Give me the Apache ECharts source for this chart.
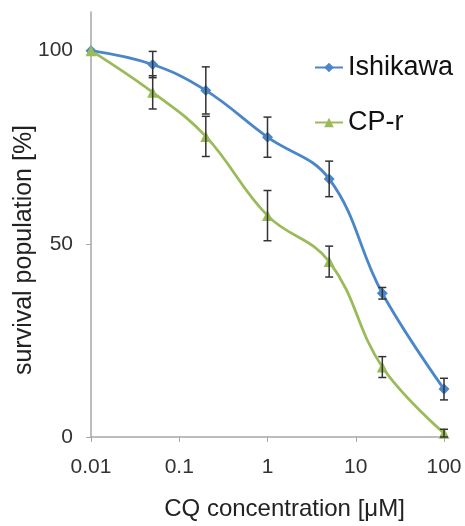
<!DOCTYPE html>
<html><head><meta charset="utf-8">
<script src="https://cdn.jsdelivr.net/npm/echarts@6/dist/echarts.min.js"></script>
<style>html,body{margin:0;padding:0;background:#fff}#c{width:465px;height:526px}</style>
</head><body><div id="c"></div>
<script>
const concentrations = [0.01, 0.05, 0.2, 1, 5, 20, 100];
const ishikawa = [100, 96.4, 89.7, 77.6, 66.8, 37.2, 12.4];
const ishikawaErr = [0, 3.4, 6.1, 5.2, 4.6, 1.5, 2.8];
const cpr = [100, 89.2, 77.8, 57.3, 45.4, 18.1, 1.0];
const cprErr = [0, 4.3, 5.2, 6.5, 4.0, 2.7, 1.0];
const xTickLabels = ['0.01', '0.1', '1', '10', '100'];
const yTicks = [0, 50, 100];

const blue = '#4a86c8', green = '#9bbb59';
const font = '"Liberation Sans", Arial, sans-serif';

function errData(vals, errs) {
  return concentrations.map((x, i) => [x, vals[i] - errs[i], vals[i] + errs[i]]).filter((d, i) => errs[i] > 0);
}
function renderErr(params, api) {
  const x = api.value(0);
  const lo = api.coord([x, api.value(1)]);
  const hi = api.coord([x, api.value(2)]);
  const w = 4;
  const st = { stroke: '#333', lineWidth: 1.5 };
  return { type: 'group', children: [
    { type: 'line', shape: { x1: lo[0], y1: lo[1], x2: hi[0], y2: hi[1] }, style: st },
    { type: 'line', shape: { x1: lo[0] - w, y1: lo[1], x2: lo[0] + w, y2: lo[1] }, style: st },
    { type: 'line', shape: { x1: hi[0] - w, y1: hi[1], x2: hi[0] + w, y2: hi[1] }, style: st }
  ]};
}

const chart = echarts.init(document.getElementById('c'), null, { renderer: 'canvas' });
chart.setOption({
  animation: false,
  backgroundColor: '#fff',
  grid: { left: 91, right: 21, top: 12, bottom: 89, containLabel: false, outerBoundsMode: 'none' },
  legend: {
    orient: 'vertical', left: 309, top: 49, itemGap: 28, itemWidth: 28, itemHeight: 12,
    textStyle: { fontFamily: font, fontSize: 27, color: '#111' },
    data: ['Ishikawa', 'CP-r']
  },
  xAxis: {
    type: 'log', logBase: 10, min: 0.01, max: 100,
    name: 'CQ concentration [μM]', nameLocation: 'middle', nameGap: 60,
    nameTextStyle: { fontFamily: font, fontSize: 24, color: '#222', padding: [0, 0, 0, 34] },
    axisLine: { lineStyle: { color: '#a6a6a6', width: 1.5 } },
    axisTick: { show: true, inside: false, length: 5, lineStyle: { color: '#a6a6a6' } },
    minorTick: { show: false },
    splitLine: { show: false },
    axisLabel: { margin: 20, fontFamily: font, fontSize: 21, color: '#333',
      formatter: v => { const i = Math.round(Math.log10(v)) + 2; return xTickLabels[i] !== undefined ? xTickLabels[i] : ''; } }
  },
  yAxis: {
    type: 'value', min: 0, max: 110, interval: 50,
    axisLine: { show: true, lineStyle: { color: '#a6a6a6', width: 1.5 } },
    axisTick: { show: true, length: 5, lineStyle: { color: '#a6a6a6' } },
    splitLine: { show: false },
    axisLabel: { margin: 18, fontFamily: font, fontSize: 21, color: '#333', showMaxLabel: false,
      formatter: v => yTicks.indexOf(v) >= 0 ? String(v) : '' }
  },
  graphic: [{
    type: 'text', x: 24, y: 250, rotation: Math.PI / 2,
    style: { text: 'survival population [%]', fontFamily: font, fontSize: 25, fill: '#222', align: 'center', verticalAlign: 'middle' }
  }],
  series: [
    { name: 'Ishikawa', type: 'line', smooth: 0.4, data: concentrations.map((x, i) => [x, ishikawa[i]]),
      symbol: 'diamond', symbolSize: 11, lineStyle: { color: blue, width: 2.8 }, itemStyle: { color: blue }, z: 3 },
    { name: 'CP-r', type: 'line', smooth: 0.4, data: concentrations.map((x, i) => [x, cpr[i]]),
      symbol: 'triangle', symbolSize: 11, lineStyle: { color: green, width: 2.8 }, itemStyle: { color: green }, z: 3 },
    { type: 'custom', renderItem: renderErr, data: errData(ishikawa, ishikawaErr), z: 4, silent: true },
    { type: 'custom', renderItem: renderErr, data: errData(cpr, cprErr), z: 4, silent: true }
  ]
});
</script></body></html>
